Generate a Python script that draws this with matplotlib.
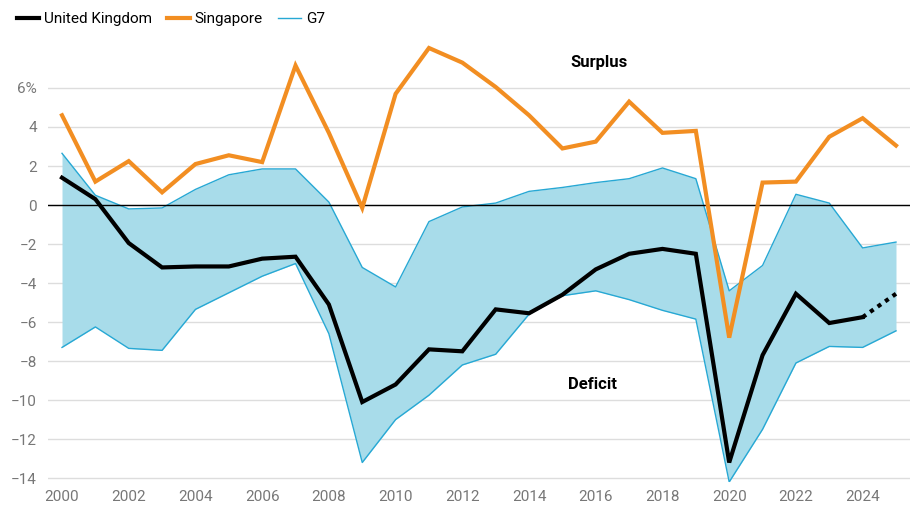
import numpy as np
import matplotlib.pyplot as plt
from matplotlib.lines import Line2D
from matplotlib.ticker import FuncFormatter

plt.rcParams['font.family'] = ['Roboto', 'DejaVu Sans']

years = np.arange(2000, 2026)

# UK current account balance, % of GDP (2025 is a forecast)
uk = [1.4, 0.3, -1.95, -3.2, -3.15, -3.15, -2.75, -2.65, -5.1, -10.1,
      -9.2, -7.4, -7.5, -5.35, -5.55, -4.6, -3.3, -2.5, -2.25, -2.5,
      -13.2, -7.7, -4.55, -6.05, -5.75, -4.55]

singapore = [4.6, 1.2, 2.25, 0.65, 2.1, 2.55, 2.2, 7.15, 3.7, -0.15,
             5.7, 8.05, 7.3, 6.05, 4.6, 2.9, 3.25, 5.3, 3.7, 3.8,
             -6.8, 1.15, 1.2, 3.5, 4.45, 3.05]

# G7 range: highest and lowest member each year
g7_high = [2.65, 0.5, -0.2, -0.15, 0.8, 1.55, 1.85, 1.85, 0.15, -3.2,
           -4.2, -0.85, -0.1, 0.1, 0.7, 0.9, 1.15, 1.35, 1.9, 1.35,
           -4.4, -3.1, 0.55, 0.1, -2.2, -1.9]
g7_low = [-7.3, -6.25, -7.35, -7.45, -5.35, -4.5, -3.65, -3.0, -6.6, -13.2,
          -11.0, -9.75, -8.2, -7.65, -5.6, -4.65, -4.4, -4.85, -5.4, -5.85,
          -14.2, -11.5, -8.1, -7.25, -7.3, -6.45]

orange = '#f28e22'
blue_line = '#27a8d4'
blue_fill = '#a8dcea'
grey = '#777777'

fig = plt.figure(figsize=(9.2, 5.12), dpi=100)
ax = fig.add_axes([48 / 920, 1 - 482 / 512, (910 - 48) / 920, (482 - 40) / 512])

ax.fill_between(years, g7_low, g7_high, color=blue_fill, lw=0, zorder=1)
ax.plot(years, g7_high, color=blue_line, lw=1, zorder=2)
ax.plot(years, g7_low, color=blue_line, lw=1, zorder=2)
ax.axhline(0, color='black', lw=1, zorder=3)
ax.plot(years, singapore, color=orange, lw=3, zorder=4, solid_joinstyle='miter')
ax.plot(years[:-1], uk[:-1], color='black', lw=3, zorder=5, solid_joinstyle='miter')
ax.plot(years[-2:], uk[-2:], color='black', lw=3, ls=(0, (1, 1.2)), zorder=5)

ax.set_xlim(1999.58, 2025.42)
ax.set_ylim(-14.2, 8.46)
ax.set_yticks(np.arange(-14, 7, 2))
ax.set_xticks(np.arange(2000, 2025, 2))
ax.yaxis.set_major_formatter(FuncFormatter(
    lambda v, p: '6%' if v == 6 else ('%d' % v).replace('-', '\u2212')))
ax.grid(axis='y', color='#dddddd', lw=1, zorder=0)
ax.set_axisbelow(True)
for s in ax.spines.values():
    s.set_visible(False)
ax.tick_params(length=0, labelsize=11, colors=grey, pad=8)
ax.tick_params(axis='x', pad=6)

ax.text(2016.1, 7.3, 'Surplus', fontsize=12, fontweight='bold', ha='center', va='center')
ax.text(2015.9, -9.2, 'Deficit', fontsize=12, fontweight='bold', ha='center', va='center')

handles = [Line2D([], [], color='black', lw=3),
           Line2D([], [], color=orange, lw=3),
           Line2D([], [], color=blue_line, lw=1)]
fig.legend(handles, ['United Kingdom', 'Singapore', 'G7'], loc='upper left',
           bbox_to_anchor=(0.003, 1.003), ncol=3, frameon=False, fontsize=11,
           handlelength=1.5, handletextpad=0.3, columnspacing=1.0)

fig.savefig('out.png', dpi=100)
